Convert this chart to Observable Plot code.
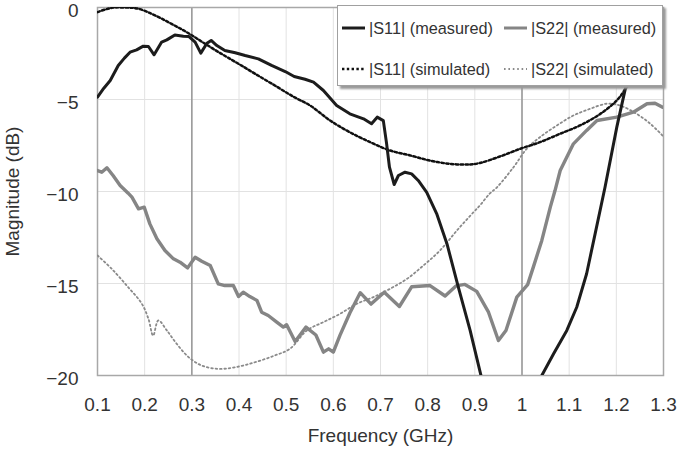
<!DOCTYPE html>
<html>
<head>
<meta charset="utf-8">
<script src="https://cdn.jsdelivr.net/npm/d3@7"></script>
<script src="https://cdn.jsdelivr.net/npm/@observablehq/plot@0.6"></script>
<style>
  html, body { margin: 0; padding: 0; background: #fff; }
  #wrap { position: relative; width: 679px; height: 451px; font-family: "Liberation Sans", Arial, sans-serif; }
  #legend { position: absolute; left: 337px; top: 5px; width: 326px; height: 81px; background: #fff;
            border: 1px solid #a0a0a0; box-shadow: 3px 3px 2px #9a9a9a; box-sizing: border-box; }
  .item { position: absolute; display: flex; align-items: center; font-size: 16.3px; color: #333; white-space: nowrap; line-height: 20px; }
  .item svg { margin-right: 3px; }
</style>
</head>
<body>
<div id="wrap"></div>
<script>
// ---- data ----
const xTicks = [0.1, 0.2, 0.3, 0.4, 0.5, 0.6, 0.7, 0.8, 0.9, 1.0, 1.1, 1.2, 1.3];
const yTicks = [-20, -15, -10, -5, 0];
const markerFreqs = [0.3, 1.0];

const s11mFreq = [0.100,0.113,0.127,0.144,0.157,0.169,0.183,0.197,0.208,0.220,0.236,0.247,0.264,0.282,0.294,0.307,0.319,0.332,0.341,0.353,0.370,0.392,0.413,0.441,0.469,0.498,0.517,0.540,0.558,0.579,0.607,0.635,0.664,0.681,0.693,0.706,0.713,0.719,0.729,0.738,0.752,0.766,0.780,0.798,0.819,0.841,0.865,0.890,0.913,0.980,1.042,1.067,1.095,1.116,1.137,1.155,1.176,1.201,1.219,1.235];
const s11mVal  = [-4.87,-4.40,-3.97,-3.15,-2.75,-2.43,-2.30,-2.10,-2.12,-2.57,-1.88,-1.76,-1.49,-1.56,-1.58,-1.88,-2.48,-1.94,-1.79,-2.07,-2.34,-2.46,-2.61,-2.79,-3.15,-3.48,-3.75,-3.90,-4.06,-4.51,-5.33,-5.78,-6.05,-6.32,-5.96,-6.15,-7.41,-8.68,-9.62,-9.13,-8.95,-9.04,-9.40,-10.05,-11.2,-12.85,-15.2,-17.55,-20.0,null,-20.0,-18.82,-17.55,-16.29,-14.47,-12.3,-9.77,-6.5,-4.42,-3.0];

const s22mFreq = [0.100,0.109,0.120,0.133,0.148,0.165,0.173,0.187,0.199,0.211,0.226,0.243,0.261,0.275,0.291,0.307,0.321,0.339,0.356,0.370,0.388,0.399,0.409,0.423,0.438,0.448,0.462,0.480,0.494,0.501,0.519,0.542,0.563,0.579,0.590,0.600,0.614,0.635,0.657,0.680,0.708,0.740,0.766,0.805,0.837,0.860,0.879,0.904,0.929,0.950,0.966,0.989,1.012,1.024,1.042,1.060,1.070,1.081,1.109,1.137,1.159,1.201,1.236,1.265,1.282,1.298];
const s22mVal  = [-8.86,-8.95,-8.71,-9.13,-9.67,-10.09,-10.31,-10.94,-10.85,-11.76,-12.57,-13.21,-13.66,-13.84,-14.15,-13.57,-13.79,-14.02,-15.02,-15.11,-15.11,-15.71,-15.47,-15.71,-15.92,-16.56,-16.74,-17.10,-17.37,-17.24,-18.15,-17.37,-17.80,-18.73,-18.55,-18.73,-17.82,-16.60,-15.50,-16.12,-15.47,-16.25,-15.18,-15.11,-15.68,-15.13,-15.05,-15.43,-16.56,-18.10,-17.55,-15.74,-15.06,-14.11,-12.66,-10.85,-9.95,-8.86,-7.41,-6.68,-6.14,-5.96,-5.69,-5.23,-5.20,-5.42];

const s11sFreq = [0.100,0.130,0.158,0.187,0.222,0.257,0.293,0.328,0.363,0.399,0.434,0.476,0.517,0.551,0.593,0.635,0.678,0.720,0.763,0.805,0.848,0.890,0.911,0.953,0.996,1.038,1.081,1.123,1.166,1.201,1.222,1.245];
const s11sVal  = [-0.25,-0.02,0.0,-0.07,-0.43,-0.89,-1.40,-1.97,-2.52,-3.06,-3.60,-4.24,-4.87,-5.33,-6.14,-6.78,-7.32,-7.77,-8.04,-8.32,-8.50,-8.53,-8.45,-8.10,-7.68,-7.32,-6.86,-6.41,-5.78,-5.05,-4.33,-3.5];

const s22sFreq = [0.100,0.130,0.165,0.194,0.208,0.218,0.229,0.247,0.268,0.293,0.321,0.356,0.392,0.434,0.476,0.508,0.544,0.579,0.614,0.650,0.685,0.720,0.756,0.791,0.826,0.862,0.897,0.911,0.931,0.947,0.982,1.010,1.038,1.074,1.109,1.144,1.180,1.208,1.243,1.272,1.298];
const s22sVal  = [-13.48,-14.20,-15.20,-16.10,-16.92,-17.83,-17.01,-17.55,-18.28,-19.00,-19.46,-19.64,-19.55,-19.28,-18.91,-18.55,-17.55,-17.10,-16.65,-16.10,-15.74,-15.29,-14.75,-14.02,-13.21,-12.12,-11.13,-10.75,-10.13,-9.77,-8.68,-7.68,-7.05,-6.41,-5.87,-5.51,-5.23,-5.33,-5.78,-6.32,-6.96];

const seriesNames = ["|S11| (measured)", "|S22| (measured)", "|S11| (simulated)", "|S22| (simulated)"];

// ---- build tables ----
const toRows = (fs, vs) => fs.map((f, i) => ({f, v: vs[i] == null ? NaN : vs[i]}));
const s11m = toRows(s11mFreq, s11mVal);
const s22m = toRows(s22mFreq, s22mVal);
const s11s = toRows(s11sFreq, s11sVal);
const s22s = toRows(s22sFreq, s22sVal);

const font = "'Liberation Sans', Arial, sans-serif";
const dashS11s = "2.4,2.4";
const dashS22s = "1.6,2.8";

const chart = Plot.plot({
  width: 679,
  height: 451,
  marginLeft: 97,
  marginRight: 16,
  marginTop: 7,
  marginBottom: 76,
  style: {fontFamily: font, background: "#fff", color: "#333", overflow: "visible"},
  x: {domain: [0.1, 1.3]},
  y: {domain: [-20, 0]},
  marks: [
    Plot.gridX(xTicks, {stroke: "#e2e2e2", strokeOpacity: 1}),
    Plot.gridY(yTicks, {stroke: "#e2e2e2", strokeOpacity: 1}),
    Plot.ruleX(markerFreqs, {stroke: "#9a9a9a", strokeWidth: 1.6}),
    Plot.frame({stroke: "#a8a8a8", strokeWidth: 1.5}),
    Plot.line(s22s, {x: "f", y: "v", stroke: "#8a8a8a", strokeWidth: 1.8, strokeDasharray: dashS22s, curve: "catmull-rom", clip: true}),
    Plot.line(s11s, {x: "f", y: "v", stroke: "#111", strokeWidth: 2.5, strokeDasharray: dashS11s, curve: "catmull-rom", clip: true}),
    Plot.line(s22m, {x: "f", y: "v", stroke: "#858585", strokeWidth: 3.4, clip: true}),
    Plot.line(s11m, {x: "f", y: "v", stroke: "#1c1c1c", strokeWidth: 3, clip: true}),
    Plot.axisX({ticks: xTicks, tickSize: 0, tickPadding: 22, fontSize: 19,
      tickFormat: d => Math.abs(d - 1) < 1e-9 ? "1" : d.toFixed(1),
      label: "Frequency (GHz)", labelAnchor: "center", labelArrow: false, labelOffset: 66}),
    Plot.axisY({ticks: yTicks, tickSize: 0, tickPadding: 19, fontSize: 19, dy: 3,
      label: "Magnitude (dB)", labelAnchor: "center", labelArrow: false, labelOffset: 92})
  ]
});
chart.querySelectorAll("[aria-label='x-axis label'], [aria-label='y-axis label']").forEach(g => g.setAttribute("font-size", 19));

const wrap = document.getElementById("wrap");
wrap.appendChild(chart);

// ---- legend (HTML overlay) ----
const legend = document.createElement("div");
legend.id = "legend";
const swatches = [
  {stroke: "#1c1c1c", w: 3, dash: null},
  {stroke: "#858585", w: 3, dash: null},
  {stroke: "#111", w: 2.5, dash: dashS11s},
  {stroke: "#8a8a8a", w: 1.8, dash: dashS22s}
];
const pos = [[4, 22], [166, 22], [4, 63], [166, 63]];
seriesNames.forEach((name, i) => {
  const s = swatches[i];
  const item = document.createElement("div");
  item.className = "item";
  item.style.left = pos[i][0] + "px";
  item.style.top = (pos[i][1] - 10) + "px";
  item.innerHTML = `<svg width="24" height="10"><line x1="0" y1="5" x2="23" y2="5" stroke="${s.stroke}" stroke-width="${s.w}" ${s.dash ? `stroke-dasharray="${s.dash}"` : ""}/></svg><span>${name}</span>`;
  legend.appendChild(item);
});
wrap.appendChild(legend);
</script>
</body>
</html>
